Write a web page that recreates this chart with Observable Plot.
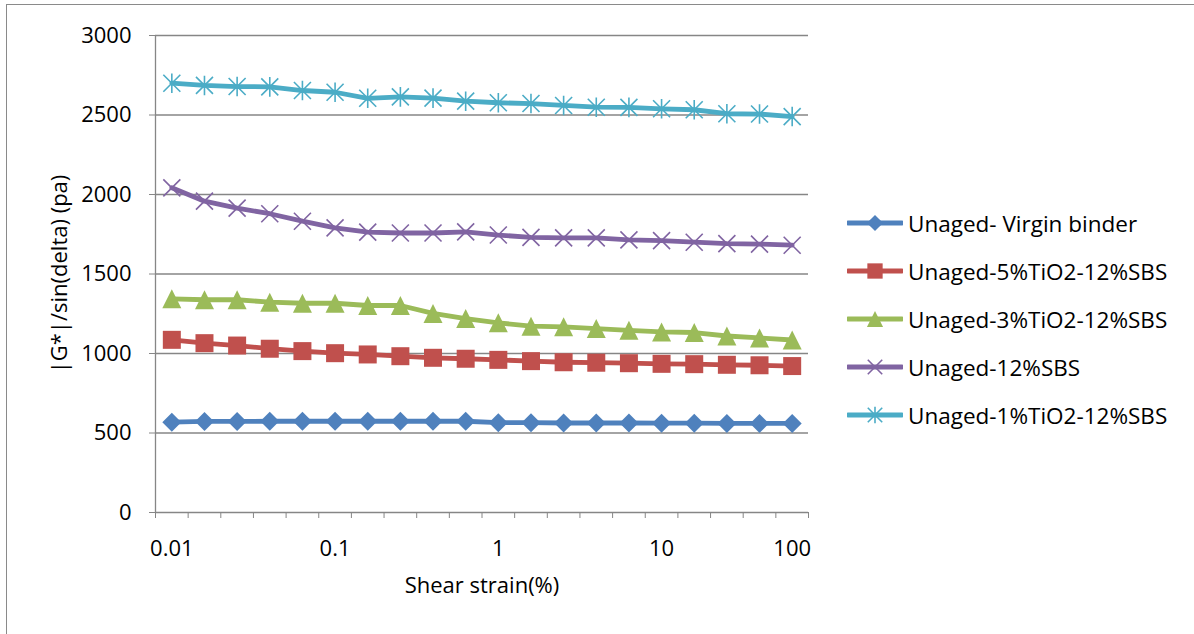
<!DOCTYPE html>
<html>
<head>
<meta charset="utf-8">
<script src="https://cdn.jsdelivr.net/npm/d3@7"></script>
<script src="https://cdn.jsdelivr.net/npm/@observablehq/plot@0.6"></script>
<style>
  html, body { margin: 0; padding: 0; background: #fff; }
  body { width: 1194px; height: 634px; position: relative; overflow: hidden; font-family: "Open Sans", sans-serif; }
  #frame { position: absolute; left: 6px; top: 4px; width: 1300px; height: 700px; border-top: 1px solid #8a8a8a; border-left: 1px solid #8a8a8a; }
  #chart { position: absolute; left: 0; top: 0; }
  #legend { position: absolute; left: 847px; top: 199px; }
  .item { display: flex; align-items: center; height: 48px; font-size: 22.5px; color: #000; }
  .item svg { margin-right: 5px; }
</style>
</head>
<body>
<div id="frame"></div>
<div id="chart"></div>
<div id="legend"></div>
<script>
// Category positions (20 shear-strain steps) and the labels shown on the axis
const categoryIndex = d3.range(20);
const xTickAt = [0, 5, 10, 15, 19];
const xTickLabels = ["0.01", "0.1", "1", "10", "100"];
const yTicks = [0, 500, 1000, 1500, 2000, 2500, 3000];

// Series names and colours
const seriesNames = ["Unaged- Virgin binder", "Unaged-5%TiO2-12%SBS", "Unaged-3%TiO2-12%SBS", "Unaged-12%SBS", "Unaged-1%TiO2-12%SBS"];
const seriesColors = ["#4F81BD", "#C0504D", "#9BBB59", "#8064A2", "#4BACC6"];

// |G*|/sin(delta) values (Pa)
const virgin = [568, 573, 573, 574, 574, 574, 574, 574, 574, 574, 565, 565, 563, 563, 563, 562, 562, 560, 560, 560];
const tio5 = [1086, 1065, 1050, 1030, 1015, 1002, 994, 983, 973, 967, 960, 952, 945, 942, 939, 935, 933, 929, 926, 921];
const tio3 = [1344, 1338, 1338, 1323, 1316, 1316, 1302, 1302, 1252, 1220, 1193, 1172, 1168, 1157, 1146, 1136, 1132, 1110, 1098, 1085];
const sbs12 = [2042, 1958, 1914, 1879, 1832, 1790, 1763, 1758, 1758, 1765, 1745, 1730, 1727, 1727, 1715, 1710, 1700, 1691, 1688, 1681];
const tio1 = [2700, 2686, 2679, 2677, 2654, 2643, 2605, 2614, 2606, 2587, 2577, 2572, 2560, 2549, 2548, 2539, 2533, 2508, 2506, 2490];

const seriesValues = [virgin, tio5, tio3, sbs12, tio1];

// Custom Excel-like marker shapes (half-size = r)
function rad(size) { return Math.sqrt(size / Math.PI); }
const symDiamond = { draw(c, s) { const r = rad(s); c.moveTo(0, -r); c.lineTo(r, 0); c.lineTo(0, r); c.lineTo(-r, 0); c.closePath(); } };
const symSquare = { draw(c, s) { const r = rad(s); c.moveTo(-r, -r); c.lineTo(r, -r); c.lineTo(r, r); c.lineTo(-r, r); c.closePath(); } };
const symTriangle = { draw(c, s) { const r = rad(s); c.moveTo(0, -r); c.lineTo(r, r); c.lineTo(-r, r); c.closePath(); } };
const symX = { draw(c, s) { const r = rad(s); c.moveTo(-r, -r); c.lineTo(r, r); c.moveTo(r, -r); c.lineTo(-r, r); } };
const symStar = { draw(c, s) { const r = rad(s); c.moveTo(-r, -r); c.lineTo(r, r); c.moveTo(r, -r); c.lineTo(-r, r); c.moveTo(0, -r * 1.15); c.lineTo(0, r * 1.15); } };
const seriesSymbols = [symDiamond, symSquare, symTriangle, symX, symStar];
const markerR = [9.5, 9, 9.5, 8.5, 8.5];
const markerFilled = [true, true, true, false, false];

const rows = [];
seriesValues.forEach((vals, s) => vals.forEach((v, i) => rows.push({ s, i: categoryIndex[i], v })));

const labelMap = new Map(xTickAt.map((d, k) => [d, xTickLabels[k]]));

const marks = [
  Plot.ruleY(yTicks, { stroke: "#868686", strokeWidth: 1.3 }),
  Plot.ruleX([-0.5], { stroke: "#868686", strokeWidth: 1.3 }),
  Plot.axisY(yTicks, { tickSize: 6, tickPadding: 18, stroke: "#868686", label: "|G*|/sin(delta) (pa)", labelArrow: "none", labelAnchor: "center", labelOffset: 104, tickFormat: d => String(d) }),
  Plot.axisX(d3.range(21).map(k => k - 0.5), { tickSize: 6, stroke: "#868686", tickFormat: () => "", label: null }),
  Plot.axisX(xTickAt, { tickSize: 0, tickPadding: 28, tickFormat: d => labelMap.get(d), label: "Shear strain(%)", labelArrow: "none", labelAnchor: "center", labelOffset: 80 })
];
seriesValues.forEach((vals, s) => {
  const data = rows.filter(d => d.s === s);
  marks.push(Plot.line(data, { x: "i", y: "v", stroke: seriesColors[s], strokeWidth: 4.8, strokeLinejoin: "round" }));
  marks.push(Plot.dot(data, {
    x: "i", y: "v", symbol: () => seriesSymbols[s], r: markerR[s],
    fill: markerFilled[s] ? seriesColors[s] : "none",
    stroke: seriesColors[s], strokeWidth: markerFilled[s] ? 0 : 1.6
  }));
});

const chart = Plot.plot({
  width: 1194, height: 634,
  marginLeft: 155, marginRight: 386, marginTop: 35, marginBottom: 122,
  style: { fontFamily: "'Open Sans', sans-serif", fontSize: "22px", color: "#000", background: "transparent", overflow: "visible" },
  x: { type: "linear", domain: [-0.5, 19.5] },
  y: { domain: [0, 3000] },
  symbol: { type: "identity" },
  marks
});
document.getElementById("chart").appendChild(chart);

// Legend (right side)
const legend = document.getElementById("legend");
seriesNames.forEach((name, s) => {
  const item = document.createElement("div");
  item.className = "item";
  const svg = d3.create("svg").attr("width", 56).attr("height", 24);
  svg.append("line").attr("x1", 1).attr("x2", 55).attr("y1", 12).attr("y2", 12)
    .attr("stroke", seriesColors[s]).attr("stroke-width", 4.8).attr("stroke-linecap", "round");
  const size = Math.PI * Math.pow(markerR[s] * 0.85, 2);
  svg.append("path").attr("transform", "translate(28,12)")
    .attr("d", d3.symbol(seriesSymbols[s], size)())
    .attr("fill", markerFilled[s] ? seriesColors[s] : "none")
    .attr("stroke", seriesColors[s]).attr("stroke-width", markerFilled[s] ? 0 : 1.6);
  item.appendChild(svg.node());
  const span = document.createElement("span");
  span.textContent = name;
  item.appendChild(span);
  legend.appendChild(item);
});
</script>
</body>
</html>
